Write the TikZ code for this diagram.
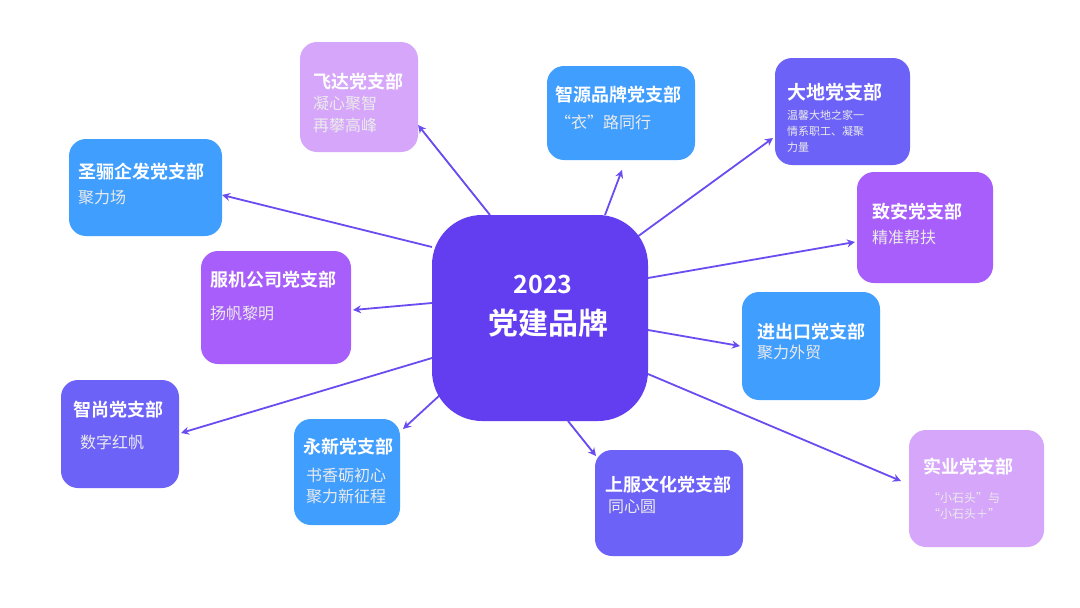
\documentclass[tikz,border=0pt]{standalone}
\usepackage{fontspec}
\setmainfont{Noto Sans CJK SC}[BoldFont={Noto Sans CJK SC Bold}]
\usetikzlibrary{arrows.meta,calc,backgrounds}
\definecolor{cblue}{HTML}{409EFF}
\definecolor{clight}{HTML}{D6A6FA}
\definecolor{cpurple}{HTML}{A85EFA}
\definecolor{cindigo}{HTML}{6C62F8}
\definecolor{ccenter}{HTML}{623EF0}
\definecolor{cline}{HTML}{6A4CF0}
\begin{document}
\begin{tikzpicture}[x=1pt,y=-1pt,
  box/.style={rounded corners=17pt, anchor=north west, inner sep=0pt, outer sep=0pt},
  ttl/.style={anchor=west, inner sep=0pt, text=white, font=\bfseries\fontsize{18}{20}\selectfont},
  sub/.style={anchor=west, inner sep=0pt, text=white!92!black, font=\fontsize{16}{18}\selectfont},
  small/.style={anchor=west, inner sep=0pt, text=white!92!black, font=\fontsize{11}{13}\selectfont},
  conn/.style={draw=cline, line width=1.8pt, -{Stealth[length=8pt,width=8pt]}}]
\useasboundingbox (0,0) rectangle (1080,608);

% boxes
\node[box, fill=clight, minimum width=118pt, minimum height=110pt] (fd) at (300,42) {};
\node[box, fill=cblue, minimum width=148pt, minimum height=94pt] (zy) at (547,66) {};
\node[box, fill=cindigo, minimum width=135pt, minimum height=107pt] (dd) at (775,58) {};
\node[box, fill=cblue, minimum width=153pt, minimum height=97pt] (sl) at (69,139) {};
\node[box, fill=cpurple, minimum width=136pt, minimum height=111pt] (za) at (857,172) {};
\node[box, fill=cpurple, minimum width=150pt, minimum height=113pt] (fj) at (201,251) {};
\node[box, fill=ccenter, rounded corners=50pt, minimum width=216pt, minimum height=206pt] (c) at (432,215) {};
\node[box, fill=cblue, minimum width=138pt, minimum height=108pt] (jck) at (742,292) {};
\node[box, fill=cindigo, minimum width=118pt, minimum height=108pt] (zs) at (61,380) {};
\node[box, fill=cblue, minimum width=106pt, minimum height=106pt] (yx) at (294,419) {};
\node[box, fill=cindigo, minimum width=148pt, minimum height=106pt] (sf) at (595,450) {};
\node[box, fill=clight, minimum width=135pt, minimum height=117pt] (sy) at (909,430) {};

% texts
\node[ttl] (fdt) at (313,82) {飞达党支部};
\node[sub] (fd1) at (313,103) {凝心聚智};
\node[sub] (fd2) at (313,125) {再攀高峰};

\node[ttl] (zyt) at (555,95) {智源品牌党支部};
\node[sub] (zy1) at (555,122) {“衣”路同行};

\node[ttl, font=\bfseries\fontsize{19}{21}\selectfont] (ddt) at (787,92) {大地党支部};
\node[small] (dd1) at (787,115) {温馨大地之家一};
\node[small] (dd2) at (787,131) {情系职工、凝聚};
\node[small] (dd3) at (787,147) {力量};

\node[ttl] (slt) at (78,172) {圣骊企发党支部};
\node[sub] (sl1) at (78,198) {聚力场};

\node[ttl] (zat) at (872,212) {致安党支部};
\node[sub] (za1) at (872,237) {精准帮扶};

\node[ttl] (fjt) at (210,280) {服机公司党支部};
\node[sub] (fj1) at (210,313) {扬帆黎明};

\node[inner sep=0pt, text=white, font=\bfseries\fontsize{25}{27}\selectfont] (ct1) at (543,284) {2023};
\node[inner sep=0pt, text=white, font=\bfseries\fontsize{30}{32}\selectfont] (ct2) at (548,323) {党建品牌};

\node[ttl] (jckt) at (757,332) {进出口党支部};
\node[sub] (jck1) at (757,352) {聚力外贸};

\node[ttl] (zst) at (73,410) {智尚党支部};
\node[sub] (zs1) at (80,442) {数字红帆};

\node[ttl] (yxt) at (303,447) {永新党支部};
\node[sub] (yx1) at (306,475) {书香砺初心};
\node[sub] (yx2) at (306,496) {聚力新征程};

\node[ttl] (sft) at (605,485) {上服文化党支部};
\node[sub] (sf1) at (608,507) {同心圆};

\node[ttl] (syt) at (923,467) {实业党支部};
\node[small, font=\fontsize{12}{14}\selectfont] (sy1) at (928,498) {“小石头”与};
\node[small, font=\fontsize{12}{14}\selectfont] (sy2) at (928,514) {“小石头＋”};

% background and connectors
\begin{pgfonlayer}{background}
\fill[white] (0,0) rectangle (1080,608);
\draw[conn] ($(c.north west)+(58,0)$) -- ($(fd.north west)+(118,83)$);
\draw[conn] ($(c.north west)+(173,0)$) -- ($(zy.north west)+(75,104)$);
\draw[conn] ($(c.north west)+(205,22)$) -- ($(dd.north west)+(-2,80)$);
\draw[conn] ($(c.north west)+(0,32)$) -- ($(sl.north west)+(153,56)$);
\draw[conn] ($(c.north west)+(216,63)$) -- ($(za.north west)+(-2,70)$);
\draw[conn] ($(c.north west)+(0,88)$) -- ($(fj.north west)+(152,59)$);
\draw[conn] ($(c.north west)+(216,115)$) -- ($(jck.north west)+(-2,54)$);
\draw[conn] ($(c.north west)+(0,143)$) -- ($(zs.north west)+(120,53)$);
\draw[conn] ($(c.north west)+(8,180)$) -- ($(yx.north west)+(109,10)$);
\draw[conn] ($(c.north west)+(136,206)$) -- ($(sf.north west)+(1,6)$);
\draw[conn] ($(c.north west)+(216,159)$) -- ($(sy.north west)+(-8,51)$);
\end{pgfonlayer}
\end{tikzpicture}
\end{document}
